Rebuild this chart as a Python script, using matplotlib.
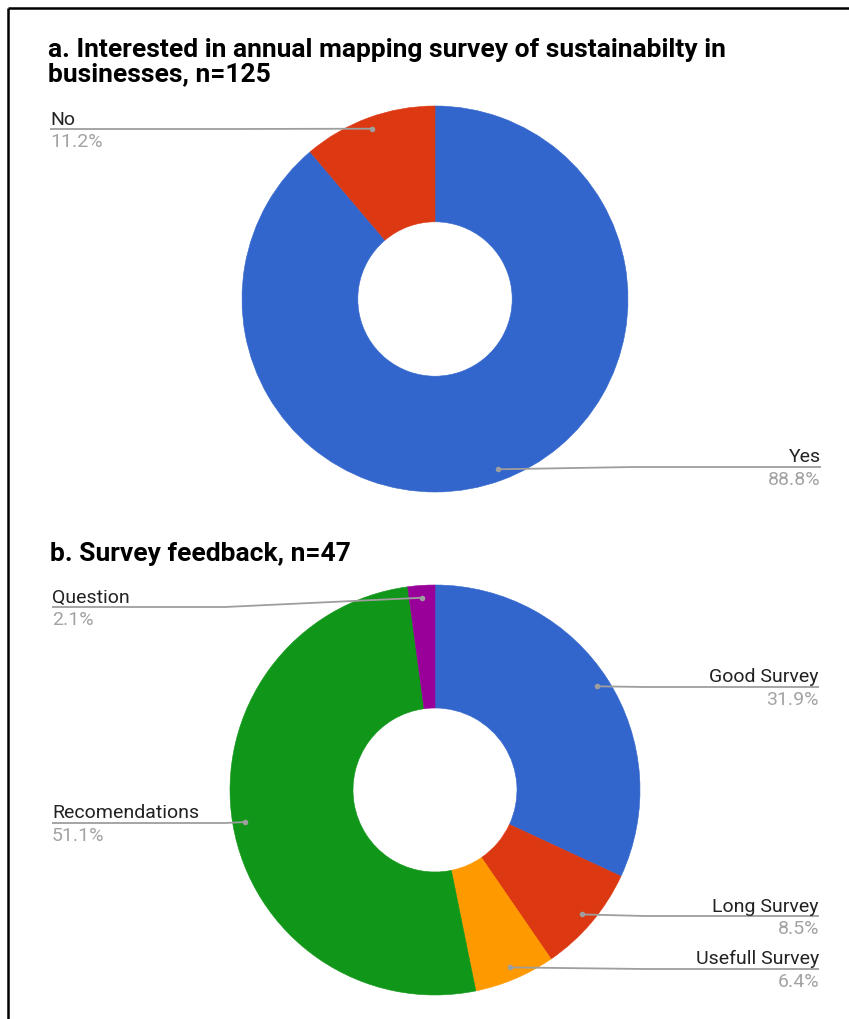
import numpy as np
import matplotlib
matplotlib.use("Agg")
import matplotlib.pyplot as plt

plt.rcParams['font.family'] = ['Roboto', 'DejaVu Sans']

# response counts
interest_labels = ['Yes', 'No']
interest_counts = [111, 14]
interest_colors = ['#3366cc', '#dc3912']

feedback_labels = ['Good Survey', 'Long Survey', 'Usefull Survey', 'Recomendations', 'Question']
feedback_counts = [15, 4, 3, 24, 1]
feedback_colors = ['#3366cc', '#dc3912', '#ff9900', '#109618', '#990099']

W, H = 849, 1019
fig = plt.figure(figsize=(W / 100, H / 100), dpi=100)
fig.patch.set_facecolor('white')

# full-figure axes in pixel units for titles, leader lines and labels
ov = fig.add_axes([0, 0, 1, 1], zorder=3)
ov.set_xlim(0, W)
ov.set_ylim(H, 0)
ov.axis('off')

LINE_C = '#9e9e9e'
PCT_C = '#a3a3a3'
TXT_C = '#222222'
LBL_FS = 14
TITLE_FS = 19


def donut(cx, cy, r, counts, colors, labels, label_y, left_x=50, right_x=821):
    ax = fig.add_axes([(cx - r) / W, 1 - (cy + r) / H, 2 * r / W, 2 * r / H], zorder=1)
    wedges, _ = ax.pie(counts, colors=colors, startangle=90, counterclock=False, radius=1,
                       wedgeprops=dict(width=0.6, linewidth=0.4))
    for w in wedges:
        w.set_edgecolor(w.get_facecolor())
    ax.set_xlim(-1, 1)
    ax.set_ylim(-1, 1)
    ax.axis('off')

    total = float(sum(counts))
    cum = 0.0
    for lab, v in zip(labels, counts):
        mid = 90 - 360 * (cum + v / 2) / total
        cum += v
        px = cx + 0.94 * r * np.cos(np.radians(mid))
        py = cy - 0.94 * r * np.sin(np.radians(mid))
        ly = label_y[lab]
        pct = f"{100 * v / total:.1f}%"
        if px >= cx:
            bend = max(px, cx + r + 5)
            ov.plot([px, bend, right_x], [py, ly, ly], color=LINE_C, lw=1.3,
                    solid_capstyle='butt')
            ha, tx = 'right', right_x
        else:
            bend = min(px, cx - r - 5)
            ov.plot([px, bend, left_x], [py, ly, ly], color=LINE_C, lw=1.3,
                    solid_capstyle='butt')
            ha, tx = 'left', left_x
        ov.text(tx, ly - 4.5, lab, ha=ha, va='baseline', fontsize=LBL_FS, color=TXT_C)
        ov.text(tx, ly + 4, pct, ha=ha, va='top', fontsize=LBL_FS, color=PCT_C)
        ov.plot(px, py, 'o', color=LINE_C, markersize=4, markeredgewidth=0)


# a. interest in annual survey
ov.text(48, 56.5, 'a. Interested in annual mapping survey of sustainabilty in',
        fontsize=TITLE_FS, fontweight='bold', color='black', va='baseline')
ov.text(48, 81.5, 'businesses, n=125', fontsize=TITLE_FS, fontweight='bold',
        color='black', va='baseline')
donut(435, 299, 193, interest_counts, interest_colors, interest_labels,
      {'Yes': 467, 'No': 129})

# b. feedback
ov.text(50, 561, 'b. Survey feedback, n=47', fontsize=TITLE_FS, fontweight='bold',
        color='black', va='baseline')
donut(435, 790, 205, feedback_counts, feedback_colors, feedback_labels,
      {'Good Survey': 687, 'Long Survey': 916, 'Usefull Survey': 969,
       'Recomendations': 823, 'Question': 607}, left_x=52, right_x=819)

# frame along top and left edge
ov.plot([8, W], [8, 8], color='black', lw=1.8, solid_capstyle='butt')
ov.plot([8, 8], [8, H], color='black', lw=1.8, solid_capstyle='butt')

fig.savefig('out.png', dpi=100)
